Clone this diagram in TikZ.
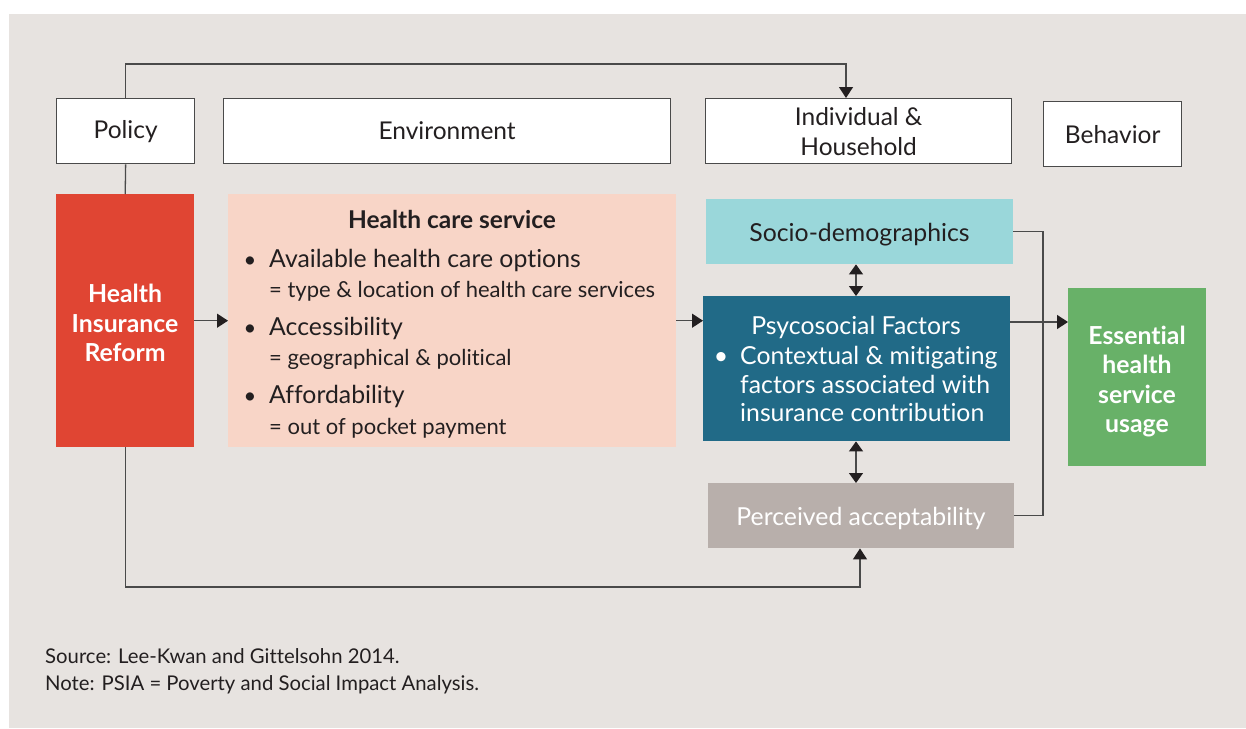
\documentclass[tikz,border=0pt]{standalone}
\usepackage{fontspec}
\setmainfont{Lato}[Ligatures={NoCommon}]
\usetikzlibrary{arrows.meta}
\definecolor{bg}{HTML}{E7E3E0}
\definecolor{redbox}{HTML}{E04533}
\definecolor{peach}{HTML}{F8D5C7}
\definecolor{lteal}{HTML}{9AD7DA}
\definecolor{dteal}{HTML}{216A87}
\definecolor{taupe}{HTML}{B8AFAB}
\definecolor{green}{HTML}{68B168}
\definecolor{linec}{HTML}{4A4A4A}
\definecolor{txt}{HTML}{231F20}
\tikzset{
  hdr/.style={draw=linec, line width=1.3pt, fill=white, anchor=north west, inner sep=0pt, text=txt, font=\fontsize{24.5}{30}\selectfont, align=center},
  blk/.style={anchor=north west, inner sep=0pt, draw=none},
  wtxt/.style={text=white, font=\fontsize{24.8}{29.5}\selectfont\bfseries, align=center, inner sep=0pt},
  line/.style={draw=linec, line width=1.3pt},
  arr/.style={line, -{Triangle[length=11pt,width=14pt,fill=txt,color=txt]}},
  darr/.style={line, {Triangle[length=10pt,width=14pt,fill=txt,color=txt]}-{Triangle[length=10pt,width=14pt,fill=txt,color=txt]}},
  item/.style={anchor=base west, inner sep=0pt, text=txt, font=\fontsize{24.8}{28}\selectfont},
  sub/.style={anchor=base west, inner sep=0pt, text=txt, font=\fontsize{22}{25}\selectfont},
  bul/.style={anchor=base, inner sep=0pt, text=txt, font=\fontsize{22}{26}\selectfont},
  wline/.style={inner sep=0pt, text=white, font=\fontsize{24.8}{28}\selectfont},
  foot/.style={anchor=base west, inner sep=0pt, text=txt, font=\fontsize{20.3}{24}\selectfont},
}
\begin{document}
\begin{tikzpicture}[x=1pt,y=-1pt]
\useasboundingbox (0,0) rectangle (1246,728);
\fill[bg] (9,14) rectangle (1246,728);

% header boxes
\node[hdr, minimum width=138pt, minimum height=65pt] (policy) at (56,98) {Policy};
\node[hdr, minimum width=447pt, minimum height=65pt] (env) at (223,98) {Environment};
\node[hdr, minimum width=306pt, minimum height=65pt] (indiv) at (705,98) {Individual \&\\Household};
\node[hdr, minimum width=138pt, minimum height=65pt] (behav) at (1043,101) {Behavior};

% main blocks
\node[blk, fill=redbox, minimum width=138pt, minimum height=253pt] (reform) at (56,194) {};
\node[wtxt] (reformt) at (125,323) {Health\\Insurance\\Reform};

\node[blk, fill=peach, minimum width=448pt, minimum height=253pt] (care) at (228,194) {};
\node[anchor=base, inner sep=0pt, text=txt, font=\fontsize{24.5}{28}\selectfont\bfseries] (caret) at (452,228) {Health care service};
\node[bul] (b1) at (250,267) {•};
\node[item] (i1) at (269,267) {Available health care options};
\node[sub] (s1) at (269,297) {= type \& location of health care services};
\node[bul] (b2) at (250,335) {•};
\node[item] (i2) at (269,335) {Accessibility};
\node[sub] (s2) at (269,365) {= geographical \& political};
\node[bul] (b3) at (250,403) {•};
\node[item] (i3) at (269,403) {Affordability};
\node[sub] (s3) at (269,434) {= out of pocket payment};

\node[blk, fill=lteal, minimum width=307pt, minimum height=65pt] (socio) at (706,199) {};
\node[anchor=base, inner sep=0pt, text=txt, font=\fontsize{24.8}{28}\selectfont] (sociot) at (859.5,241) {Socio-demographics};

\node[blk, fill=dteal, minimum width=307pt, minimum height=145pt] (psy) at (703,296) {};
\node[wline, anchor=base] (psyt) at (856,334) {Psycosocial Factors};
\node[wline, anchor=base] (psyb) at (721,364) {•};
\node[wline, anchor=base west] (psy1) at (740,364) {Contextual \& mitigating};
\node[wline, anchor=base west] (psy2) at (740,393) {factors associated with};
\node[wline, anchor=base west] (psy3) at (740,421) {insurance contribution};

\node[blk, fill=taupe, minimum width=306pt, minimum height=65pt] (perc) at (708,483) {};
\node[wline, anchor=base] (perct) at (861,525) {Perceived acceptability};

\node[blk, fill=green, minimum width=138pt, minimum height=178pt] (usage) at (1068,288) {};
\node[wtxt] (usaget) at (1137,381.5) {Essential\\health\\service\\usage};

% footer
\node[foot] (src) at (45,663) {Source: Lee-Kwan and Gittelsohn 2014.};
\node[foot] (note) at (45,690) {Note: PSIA = Poverty and Social Impact Analysis.};

% connectors
\coordinate (topR) at (846,64);
\draw[arr] (policy.north) |- (topR) -- (topR |- indiv.north);
\draw[line] (policy.south) -- (reform.north);
\coordinate (botR) at (860,587);
\draw[arr] (reform.south) |- (botR) -- (botR |- perc.south);
\draw[arr] (reform.east) -- (care.west);
\draw[arr] (care.east) -- (care.east -| psy.west);
\coordinate (mid) at (856,0);
\draw[darr] (mid |- socio.south) -- (mid |- psy.north);
\draw[darr] (mid |- psy.south) -- (mid |- perc.north);
\coordinate (brk) at (1043,0);
\draw[line] (socio.east) -- (socio.east -| brk) -- (perc.east -| brk) -- (perc.east);
\coordinate (pg) at (1010,322);
\draw[arr] (pg) -- (pg -| usage.west);
\end{tikzpicture}
\end{document}
